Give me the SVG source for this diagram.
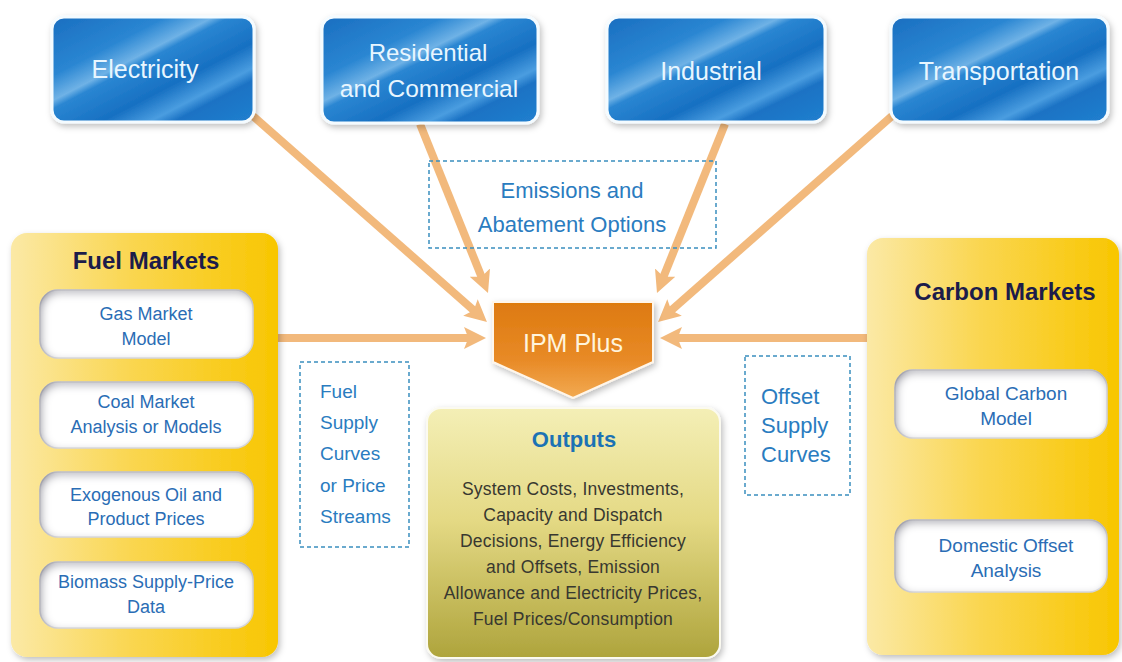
<svg xmlns="http://www.w3.org/2000/svg" width="1122" height="662" viewBox="0 0 1122 662">
  <defs>
    <style>
      .sector text { font-family: "Liberation Sans", Arial, sans-serif; font-size: 25px; fill: #e8f6ff; text-anchor: middle; }
      .panel-title { font-family: "Liberation Sans", Arial, sans-serif; font-size: 24px; font-weight: bold; fill: #1c1c4a; text-anchor: middle; }
      .item text { font-family: "Liberation Sans", Arial, sans-serif; font-size: 18px; fill: #2a6db5; text-anchor: middle; }
      .note text { font-family: "Liberation Sans", Arial, sans-serif; fill: #2a7cc0; }
      .note rect { fill: none; stroke: #3a8fbf; stroke-width: 1.5; stroke-dasharray: 4 3; }
      .flow { stroke: #f2b97c; stroke-width: 8; fill: none; marker-end: url(#head); }
      .out-body { font-family: "Liberation Sans", Arial, sans-serif; font-size: 17.5px; letter-spacing: 0.2px; fill: #383830; text-anchor: middle; }
    </style>

    <!-- glossy blue for the sector boxes -->
    <linearGradient id="gloss" x1="0" y1="0" x2="1" y2="1">
      <stop offset="0" stop-color="#1a6ec0"/>
      <stop offset="0.28" stop-color="#2a86d2"/>
      <stop offset="0.40" stop-color="#6fb2e6"/>
      <stop offset="0.44" stop-color="#2a86d2"/>
      <stop offset="0.62" stop-color="#1770c2"/>
      <stop offset="0.74" stop-color="#4a9de0"/>
      <stop offset="0.80" stop-color="#1b72c4"/>
      <stop offset="1" stop-color="#2180cf"/>
    </linearGradient>

    <!-- gold market panels -->
    <linearGradient id="gold" x1="0" y1="0" x2="1" y2="0">
      <stop offset="0" stop-color="#fbe9a6"/>
      <stop offset="0.45" stop-color="#fad650"/>
      <stop offset="1" stop-color="#f8c600"/>
    </linearGradient>

    <!-- outputs box -->
    <linearGradient id="olive" x1="0" y1="0" x2="0" y2="1">
      <stop offset="0" stop-color="#f4efb6"/>
      <stop offset="0.45" stop-color="#e4d984"/>
      <stop offset="1" stop-color="#aea43c"/>
    </linearGradient>

    <!-- IPM Plus pentagon -->
    <linearGradient id="orange" x1="0" y1="0" x2="0" y2="1">
      <stop offset="0" stop-color="#dd7a10"/>
      <stop offset="0.6" stop-color="#e88a26"/>
      <stop offset="1" stop-color="#f2aa52"/>
    </linearGradient>

    <filter id="shadow" x="-10%" y="-10%" width="125%" height="130%">
      <feDropShadow dx="2" dy="3" stdDeviation="3" flood-color="#000" flood-opacity="0.25"/>
    </filter>

    <!-- sunken look for the white model boxes -->
    <filter id="inset" x="-5%" y="-10%" width="110%" height="120%">
      <feFlood flood-color="#6e6e82" flood-opacity="0.9"/>
      <feComposite in2="SourceAlpha" operator="out"/>
      <feGaussianBlur stdDeviation="5"/>
      <feOffset dx="2" dy="3"/>
      <feComposite in2="SourceAlpha" operator="in" result="inner"/>
      <feMerge>
        <feMergeNode in="SourceGraphic"/>
        <feMergeNode in="inner"/>
      </feMerge>
    </filter>

    <marker id="head" viewBox="0 0 20 20" refX="10" refY="10" markerWidth="22" markerHeight="22" markerUnits="userSpaceOnUse" orient="auto">
      <path d="M0,0 L20,10 L0,20 L4,10 z" fill="#f2b97c"/>
    </marker>
  </defs>

  <rect width="1122" height="662" fill="#ffffff"/>

  <!-- connectors into IPM Plus -->
  <g id="connectors">
    <line class="flow" x1="253" y1="116" x2="478.7" y2="314.7"/>
    <line class="flow" x1="420" y1="124" x2="483.9" y2="282.8"/>
    <line class="flow" x1="725" y1="124" x2="661.1" y2="282.8"/>
    <line class="flow" x1="892" y1="116" x2="666.3" y2="314.7"/>
    <line class="flow" x1="278" y1="338" x2="475" y2="338"/>
    <line class="flow" x1="867" y1="338" x2="671" y2="338"/>
  </g>

  <!-- sectors -->
  <g id="electricity" class="sector">
    <rect x="52" y="17" width="202" height="105" rx="12" fill="url(#gloss)" stroke="#f4fbff" stroke-width="3" filter="url(#shadow)"/>
    <text x="145" y="78">Electricity</text>
  </g>
  <g id="residential" class="sector">
    <rect x="322" y="17" width="216" height="106" rx="12" fill="url(#gloss)" stroke="#f4fbff" stroke-width="3" filter="url(#shadow)"/>
    <text x="428" y="61" style="font-size:24px">Residential</text>
    <text x="429" y="97" style="font-size:24.5px">and Commercial</text>
  </g>
  <g id="industrial" class="sector">
    <rect x="607" y="17" width="218" height="105" rx="12" fill="url(#gloss)" stroke="#f4fbff" stroke-width="3" filter="url(#shadow)"/>
    <text x="711" y="80">Industrial</text>
  </g>
  <g id="transportation" class="sector">
    <rect x="891" y="17" width="217" height="105" rx="12" fill="url(#gloss)" stroke="#f4fbff" stroke-width="3" filter="url(#shadow)"/>
    <text x="999" y="80">Transportation</text>
  </g>

  <!-- emissions note -->
  <g id="emissions" class="note">
    <rect x="429" y="161" width="287" height="87"/>
    <text x="572" y="198" text-anchor="middle" style="font-size:22px">Emissions and</text>
    <text x="572" y="232" text-anchor="middle" style="font-size:22px">Abatement Options</text>
  </g>

  <!-- fuel markets -->
  <g id="fuel-markets">
    <rect x="11" y="233" width="267" height="424" rx="16" fill="url(#gold)" filter="url(#shadow)"/>
    <text class="panel-title" x="146" y="269">Fuel Markets</text>
    <g id="gas-market" class="item">
      <rect x="40" y="290" width="213" height="68" rx="18" fill="#ffffff" stroke="#e6e6ea" stroke-width="1.5" filter="url(#inset)"/>
      <text x="146" y="320">Gas Market</text>
      <text x="146" y="345">Model</text>
    </g>
    <g id="coal-market" class="item">
      <rect x="40" y="382" width="213" height="66" rx="18" fill="#ffffff" stroke="#e6e6ea" stroke-width="1.5" filter="url(#inset)"/>
      <text x="146" y="408">Coal Market</text>
      <text x="146" y="433">Analysis or Models</text>
    </g>
    <g id="oil-prices" class="item">
      <rect x="40" y="472" width="213" height="65" rx="18" fill="#ffffff" stroke="#e6e6ea" stroke-width="1.5" filter="url(#inset)"/>
      <text x="146" y="501">Exogenous Oil and</text>
      <text x="146" y="525">Product Prices</text>
    </g>
    <g id="biomass" class="item">
      <rect x="40" y="562" width="213" height="66" rx="18" fill="#ffffff" stroke="#e6e6ea" stroke-width="1.5" filter="url(#inset)"/>
      <text x="146" y="588">Biomass Supply-Price</text>
      <text x="146" y="613">Data</text>
    </g>
  </g>

  <!-- fuel supply note -->
  <g id="fuel-supply" class="note">
    <rect x="300" y="362" width="109" height="185"/>
    <g style="font-size:19px">
      <text x="320" y="398">Fuel</text>
      <text x="320" y="429">Supply</text>
      <text x="320" y="460">Curves</text>
      <text x="320" y="492">or Price</text>
      <text x="320" y="523">Streams</text>
    </g>
  </g>

  <!-- IPM Plus -->
  <g id="ipm-plus">
    <polygon points="493,302 653,302 653,362 573,398 493,362" fill="url(#orange)" stroke="#fff6ea" stroke-width="2" filter="url(#shadow)"/>
    <text x="573" y="352" text-anchor="middle" font-family="Liberation Sans, Arial, sans-serif" font-size="25" fill="#fff4dc">IPM Plus</text>
  </g>

  <!-- outputs -->
  <g id="outputs">
    <rect x="427" y="408" width="293" height="250" rx="14" fill="url(#olive)" stroke="#fbfaf0" stroke-width="2" filter="url(#shadow)"/>
    <text x="574" y="447" text-anchor="middle" font-family="Liberation Sans, Arial, sans-serif" font-size="22" font-weight="bold" fill="#1b72b4">Outputs</text>
    <text class="out-body" x="573" y="495">System Costs, Investments,</text>
    <text class="out-body" x="573" y="521">Capacity and Dispatch</text>
    <text class="out-body" x="573" y="547">Decisions, Energy Efficiency</text>
    <text class="out-body" x="573" y="573">and Offsets, Emission</text>
    <text class="out-body" x="573" y="599">Allowance and Electricity Prices,</text>
    <text class="out-body" x="573" y="625">Fuel Prices/Consumption</text>
  </g>

  <!-- offset supply note -->
  <g id="offset-supply" class="note">
    <rect x="745" y="356" width="105" height="139"/>
    <g style="font-size:22px">
      <text x="761" y="404">Offset</text>
      <text x="761" y="433">Supply</text>
      <text x="761" y="462">Curves</text>
    </g>
  </g>

  <!-- carbon markets -->
  <g id="carbon-markets">
    <rect x="867" y="238" width="252" height="417" rx="16" fill="url(#gold)" filter="url(#shadow)"/>
    <text class="panel-title" x="1005" y="300">Carbon Markets</text>
    <g id="global-carbon" class="item">
      <rect x="895" y="370" width="212" height="68" rx="18" fill="#ffffff" stroke="#e6e6ea" stroke-width="1.5" filter="url(#inset)"/>
      <text x="1006" y="400" style="font-size:19px">Global Carbon</text>
      <text x="1006" y="425" style="font-size:19px">Model</text>
    </g>
    <g id="domestic-offset" class="item">
      <rect x="895" y="520" width="212" height="72" rx="18" fill="#ffffff" stroke="#e6e6ea" stroke-width="1.5" filter="url(#inset)"/>
      <text x="1006" y="552" style="font-size:19px">Domestic Offset</text>
      <text x="1006" y="577" style="font-size:19px">Analysis</text>
    </g>
  </g>
</svg>
